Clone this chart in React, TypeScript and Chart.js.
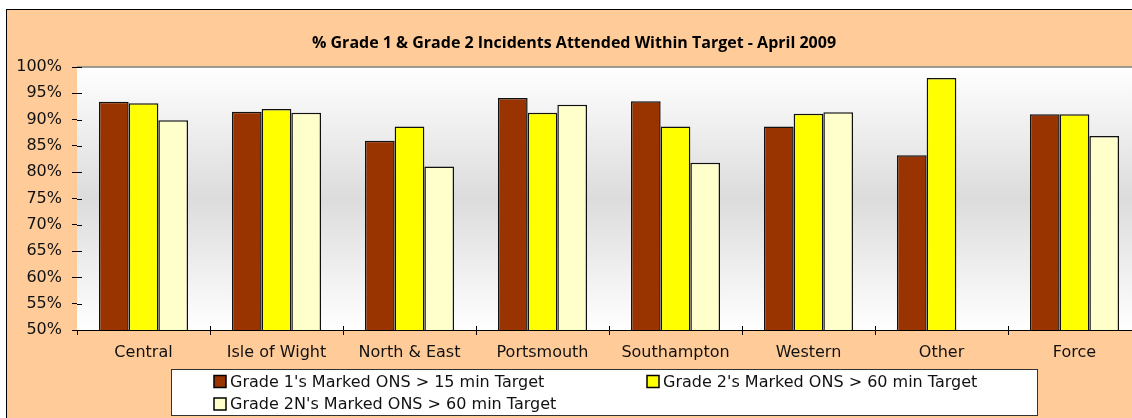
import React, { useEffect, useRef } from "react";
import { Chart, registerables } from "chart.js";

Chart.register(...registerables);

const categories = ["Central", "Isle of Wight", "North & East", "Portsmouth", "Southampton", "Western", "Other", "Force"];
const grade1 = [93.4, 91.5, 86.0, 94.1, 93.5, 88.7, 83.2, 91.0];
const grade2 = [93.1, 92.0, 88.7, 91.3, 88.7, 91.1, 97.9, 91.0];
const grade2N = [89.9, 91.3, 81.1, 92.8, 81.8, 91.4, null, 86.9];
const seriesLabels = [
  "Grade 1's Marked ONS > 15 min Target",
  "Grade 2's Marked ONS > 60 min Target",
  "Grade 2N's Marked ONS > 60 min Target",
];
const seriesColors = ["#993300", "#FFFF00", "#FFFFCC"];
const titleText = "% Grade 1 & Grade 2 Incidents Attended Within Target - April 2009";
const yMin = 50;
const yMax = 100;
const yStep = 5;

const AXIS_FONT = '"DejaVu Sans", Verdana, sans-serif';

const plotBackground = {
  id: "plotBackground",
  beforeDatasetsDraw(chart: any) {
    const { ctx, chartArea } = chart;
    const { left, top, right, bottom } = chartArea;
    ctx.save();
    const g = ctx.createLinearGradient(0, top, 0, bottom);
    g.addColorStop(0, "#ffffff");
    g.addColorStop(0.5, "#dcdcdc");
    g.addColorStop(1, "#ffffff");
    ctx.fillStyle = g;
    ctx.fillRect(left, top, right - left, bottom - top);
    ctx.strokeStyle = "#808080";
    ctx.lineWidth = 1.5;
    ctx.beginPath();
    ctx.moveTo(left, top);
    ctx.lineTo(right, top);
    ctx.lineTo(right, bottom);
    ctx.stroke();
    ctx.restore();
  },
};

const crossTicks = {
  id: "crossTicks",
  afterDraw(chart: any) {
    const { ctx, chartArea, scales } = chart;
    ctx.save();
    ctx.strokeStyle = "#000";
    ctx.lineWidth = 1;
    ctx.beginPath();
    scales.y.ticks.forEach((t: any) => {
      const py = Math.round(scales.y.getPixelForValue(t.value)) + 0.5;
      ctx.moveTo(chartArea.left, py);
      ctx.lineTo(chartArea.left + 5, py);
    });
    const n = categories.length;
    const w = (chartArea.right - chartArea.left) / n;
    for (let i = 1; i < n; i++) {
      const px = Math.round(chartArea.left + i * w) + 0.5;
      ctx.moveTo(px, chartArea.bottom);
      ctx.lineTo(px, chartArea.bottom - 4);
    }
    ctx.stroke();
    ctx.restore();
  },
};

const boxLegend = {
  id: "boxLegend",
  afterDraw(chart: any) {
    const { ctx, chartArea } = chart;
    const x0 = Math.round(chartArea.left + 94);
    const y0 = Math.round(chartArea.bottom + 39);
    const w = 866;
    const h = 46;
    ctx.save();
    ctx.fillStyle = "#ffffff";
    ctx.fillRect(x0, y0, w, h);
    ctx.strokeStyle = "#333333";
    ctx.lineWidth = 1;
    ctx.strokeRect(x0 + 0.5, y0 + 0.5, w, h);
    ctx.font = `16px ${AXIS_FONT}`;
    ctx.textBaseline = "middle";
    ctx.textAlign = "left";
    chart.data.datasets.forEach((ds: any, i: number) => {
      const col = i % 2;
      const row = Math.floor(i / 2);
      const bx = x0 + 43 + col * 433;
      const cy = y0 + 12.5 + row * 22.5;
      ctx.fillStyle = ds.backgroundColor;
      ctx.fillRect(bx, cy - 6, 12, 12);
      ctx.strokeStyle = "#000";
      ctx.lineWidth = 1.5;
      ctx.strokeRect(bx, cy - 6, 12, 12);
      ctx.fillStyle = "#111";
      ctx.fillText(ds.label, bx + 16, cy + 1);
    });
    ctx.restore();
  },
};

export default function App() {
  const canvasRef = useRef<HTMLCanvasElement | null>(null);

  useEffect(() => {
    if (!canvasRef.current) return;
    const datasets = [grade1, grade2, grade2N].map((d, i) => ({
      label: seriesLabels[i],
      data: d,
      backgroundColor: seriesColors[i],
      borderColor: "#111111",
      borderWidth: 1.5,
      borderSkipped: "bottom" as const,
      barPercentage: 1,
      categoryPercentage: 0.67,
    }));
    const chart = new Chart(canvasRef.current, {
      type: "bar",
      data: { labels: categories, datasets },
      options: {
        responsive: false,
        animation: false,
        devicePixelRatio: 1,
        layout: { padding: { left: 0, right: 12, top: 0, bottom: 58 } },
        plugins: {
          legend: { display: false },
          tooltip: { enabled: false },
          title: {
            display: true,
            text: titleText,
            color: "#000",
            font: { family: "'Open Sans', Lato, sans-serif", size: 16, weight: "bold", lineHeight: 1.2 },
            padding: { top: 23.4, bottom: 14.4 },
          },
        },
        scales: {
          x: {
            offset: true,
            grid: { display: true, drawOnChartArea: false, drawTicks: true, tickLength: 5, color: "#000", offset: true },
            border: { display: true, color: "#000", width: 1 },
            ticks: { color: "#111", font: { family: AXIS_FONT, size: 16 }, padding: 8, maxRotation: 0, autoSkip: false },
            afterFit: (s: any) => { s.height = 30; },
          },
          y: {
            min: yMin,
            max: yMax,
            grid: { display: true, drawOnChartArea: false, drawTicks: true, tickLength: 5, color: "#000" },
            border: { display: true, color: "#000", width: 1 },
            ticks: {
              stepSize: yStep,
              color: "#111",
              font: { family: AXIS_FONT, size: 16 },
              padding: 10,
              callback: (v: any) => `${v}%`,
            },
            afterFit: (s: any) => { s.width = 70; },
          },
        },
      },
      plugins: [plotBackground, crossTicks, boxLegend],
    });
    return () => chart.destroy();
  }, []);

  return (
    <div style={{ position: "absolute", left: 0, top: 0, width: 1132, height: 418, overflow: "hidden", background: "#ffffff" }}>
      <div
        style={{
          position: "absolute",
          left: 6,
          top: 9,
          width: 1146,
          height: 420,
          border: "1px solid #000",
          background: "#FFCC99",
        }}
      >
        <canvas ref={canvasRef} width={1146} height={408} style={{ position: "absolute", left: 0, top: 0, display: "block" }} />
      </div>
    </div>
  );
}
